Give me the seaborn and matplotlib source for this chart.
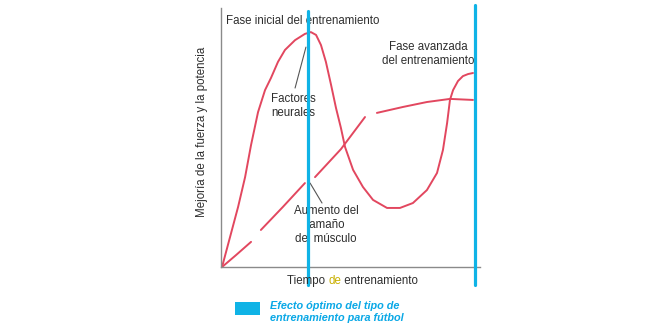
import matplotlib
matplotlib.use("Agg")
import matplotlib.pyplot as plt
import seaborn as sns
import pandas as pd

sns.set_theme(style="white")
plt.rcParams['font.family'] = ['Liberation Sans', 'DejaVu Sans']

# --- data (arbitrary units 0..10) ---
neural_x = [0.04, 0.35, 0.66, 0.93, 1.16, 1.43, 1.70, 1.93, 2.20, 2.47, 2.86, 3.24,
            3.47, 3.67, 3.86, 4.05, 4.25, 4.44, 4.63, 4.79, 5.10, 5.48, 5.87, 6.41,
            6.91, 7.41, 7.95, 8.34, 8.57, 8.73, 8.84, 8.96, 9.15, 9.34, 9.54, 9.73]
neural_y = [0.00, 1.16, 2.32, 3.47, 4.71, 5.98, 6.83, 7.30, 7.92, 8.38, 8.76, 9.00,
            9.07, 8.96, 8.57, 7.92, 7.03, 6.14, 5.37, 4.63, 3.75, 3.09, 2.59, 2.28,
            2.28, 2.47, 2.97, 3.63, 4.52, 5.56, 6.45, 6.83, 7.18, 7.37, 7.45, 7.49]

muscle_x = [0.04, 0.58, 1.16, 1.54, 2.39, 3.24, 3.63, 4.63, 5.56,
            6.02, 7.03, 7.95, 8.84, 9.73]
muscle_y = [0.00, 0.46, 0.97, 1.43, 2.32, 3.24, 3.47, 4.55, 5.79,
            5.95, 6.18, 6.37, 6.49, 6.45]
muscle_seg = [1, 1, 1, 2, 2, 2, 3, 3, 3, 4, 4, 4, 4, 4]

optimal_x = [3.36, 9.81]

title_text = "Fase inicial del entrenamiento"
late_text = "Fase avanzada\ndel entrenamiento"
neural_text = "Factores\nneurales"
muscle_text = "Aumento del\ntamaño\ndel músculo"
ylabel = "Mejoría de la fuerza y la potencia"
xlabel_parts = ["Tiempo ", "de", " entrenamiento"]
legend_text = "Efecto óptimo del tipo de\nentrenamiento para fútbol"

RED = "#e2475f"
BLUE = "#0fb3e6"
TXT = "#2e2e2e"

W, H = 660, 330
fig = plt.figure(figsize=(6.6, 3.3), dpi=100)
fig.patch.set_facecolor("white")

def px(x, y):
    return x / W, (H - y) / H

x0, y0 = px(221, 267)
x1, y1 = px(480, 8)
ax = fig.add_axes([x0, y0, x1 - x0, y1 - y0])
ax.set_xlim(0, 10)
ax.set_ylim(0, 10)
ax.set_xticks([])
ax.set_yticks([])
for s in ["top", "right"]:
    ax.spines[s].set_visible(False)
for s in ["left", "bottom"]:
    ax.spines[s].set_color("#8a8a8a")
    ax.spines[s].set_linewidth(1.0)

df_n = pd.DataFrame({"x": neural_x, "y": neural_y})
df_m = pd.DataFrame({"x": muscle_x, "y": muscle_y, "seg": muscle_seg})
sns.lineplot(data=df_n, x="x", y="y", sort=False, estimator=None, color=RED, lw=1.4,
             ax=ax, solid_joinstyle="round", solid_capstyle="round")
sns.lineplot(data=df_m, x="x", y="y", units="seg", sort=False, estimator=None,
             color=RED, lw=1.4, ax=ax, solid_joinstyle="round", solid_capstyle="round")
ax.set_xlabel("")
ax.set_ylabel("")

# pointer lines
ax.plot([2.86, 3.28], [6.91, 8.49], color="#555555", lw=0.8)
ax.plot([3.44, 3.90], [3.24, 2.47], color="#555555", lw=0.8)

# optimal blue lines (extend beyond axes)
ax.axvline(optimal_x[0], ymin=-0.07, ymax=0.99, color=BLUE, lw=2.3, clip_on=False, zorder=5)
ax.axvline(optimal_x[1], ymin=-0.07, ymax=1.01, color=BLUE, lw=2.3, clip_on=False, zorder=5)

fs = 8.3
ax.text(0.19, 9.5, title_text, fontsize=fs, color=TXT, ha="left", va="center")
ax.text(7.99, 8.22, late_text, fontsize=fs, color=TXT, ha="center", va="center", linespacing=1.15)
ax.text(2.78, 6.22, neural_text, fontsize=fs, color=TXT, ha="center", va="center", linespacing=1.15)
ax.text(4.05, 1.62, muscle_text, fontsize=fs, color=TXT, ha="center", va="center", linespacing=1.2)

fx, fy = px(202, 132)
fig.text(fx, fy, ylabel, rotation=90, fontsize=fs, color=TXT, ha="center", va="center")

# x label with colored "de"
lx, ly = px(287, 281)
t1 = fig.text(lx, ly, xlabel_parts[0], fontsize=fs, color=TXT, ha="left", va="center")
t2 = ax.annotate(xlabel_parts[1], xy=(1, 0), xycoords=t1, fontsize=fs, color="#c9b000",
                 ha="left", va="bottom", annotation_clip=False)
t3 = ax.annotate(xlabel_parts[2], xy=(1, 0), xycoords=t2, fontsize=fs, color=TXT,
                 ha="left", va="bottom", annotation_clip=False)

# legend
rx0, ry0 = px(235, 315)
rx1, ry1 = px(260, 302)
fig.patches.append(plt.Rectangle((rx0, ry0), rx1 - rx0, ry1 - ry0, transform=fig.transFigure,
                                 facecolor=BLUE, edgecolor="none"))
tx, ty = px(270, 312)
fig.text(tx, ty, legend_text, fontsize=7.8, color="#0aa8e6", fontweight="bold",
         fontstyle="italic", ha="left", va="center", linespacing=1.25)

fig.savefig("out.png", dpi=100, facecolor="white")
